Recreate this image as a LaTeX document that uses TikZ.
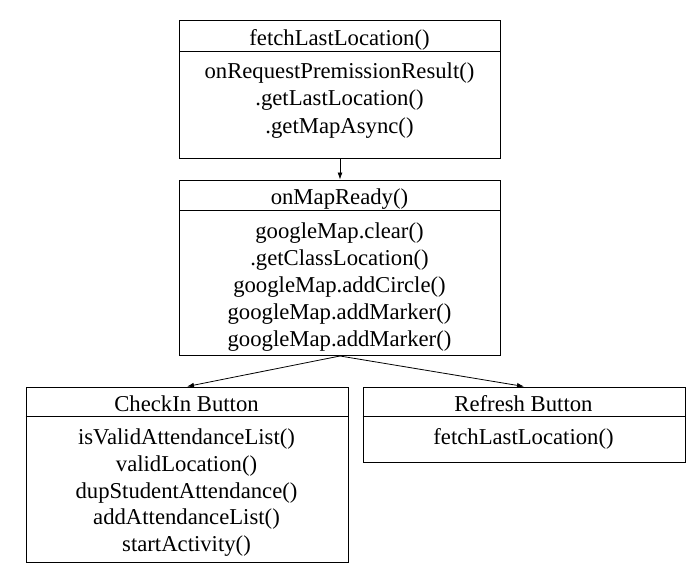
\documentclass[tikz,border=0pt]{standalone}
\usepackage{fontspec}
\setmainfont{Liberation Serif}
\usetikzlibrary{arrows.meta}
\begin{document}
\begin{tikzpicture}[x=1pt,y=-1pt,
  box/.style={draw,line width=1pt,inner sep=0pt,anchor=north west},
  txt/.style={anchor=base,inner sep=0pt,font=\fontsize{22.7}{27}\selectfont},
  conn/.style={line width=0.8pt,-{Latex[length=7pt,width=5pt]}}]
\useasboundingbox (0,0) rectangle (694,578);
% top box
\node[box,minimum width=321pt,minimum height=138pt] (b1) at (179,20) {};
\draw[line width=1pt] (179,51.5) -- (500,51.5);
\node[txt] (b1t) at (339.5,45.5) {fetchLastLocation()};
\node[txt] (b1a) at (339.5,79) {onRequestPremissionResult()};
\node[txt] (b1b) at (339.5,106) {.getLastLocation()};
\node[txt] (b1c) at (339.5,133) {.getMapAsync()};
% middle box
\node[box,minimum width=321pt,minimum height=175.5pt] (b2) at (179,179.5) {};
\draw[line width=1pt] (179,210) -- (500,210);
\node[txt] (b2t) at (339.5,204) {onMapReady()};
\node[txt] (b2a) at (339.5,238.5) {googleMap.clear()};
\node[txt] (b2b) at (339.5,265.5) {.getClassLocation()};
\node[txt] (b2c) at (339.5,292.5) {googleMap.addCircle()};
\node[txt] (b2d) at (339.5,319) {googleMap.addMarker()};
\node[txt] (b2e) at (339.5,346) {googleMap.addMarker()};
% left box
\node[box,minimum width=322pt,minimum height=175.5pt] (b3) at (25.5,386.5) {};
\draw[line width=1pt] (25.5,416.5) -- (347.5,416.5);
\node[txt] (b3t) at (186.5,411.5) {CheckIn Button};
\node[txt] (b3a) at (186.5,444) {isValidAttendanceList()};
\node[txt] (b3b) at (186.5,471) {validLocation()};
\node[txt] (b3c) at (186.5,498) {dupStudentAttendance()};
\node[txt] (b3d) at (186.5,524.5) {addAttendanceList()};
\node[txt] (b3e) at (186.5,551.5) {startActivity()};
% right box
\node[box,minimum width=322pt,minimum height=75.5pt] (b4) at (362.5,386.5) {};
\draw[line width=1pt] (362.5,416.5) -- (684.5,416.5);
\node[txt] (b4t) at (523.5,411.5) {Refresh Button};
\node[txt] (b4a) at (523.5,444) {fetchLastLocation()};
% connectors
\draw[conn] (b1.south) -- (b2.north);
\draw[conn] (b2.south) -- (b3.north);
\draw[conn] (b2.south) -- (b4.north);
\end{tikzpicture}
\end{document}
